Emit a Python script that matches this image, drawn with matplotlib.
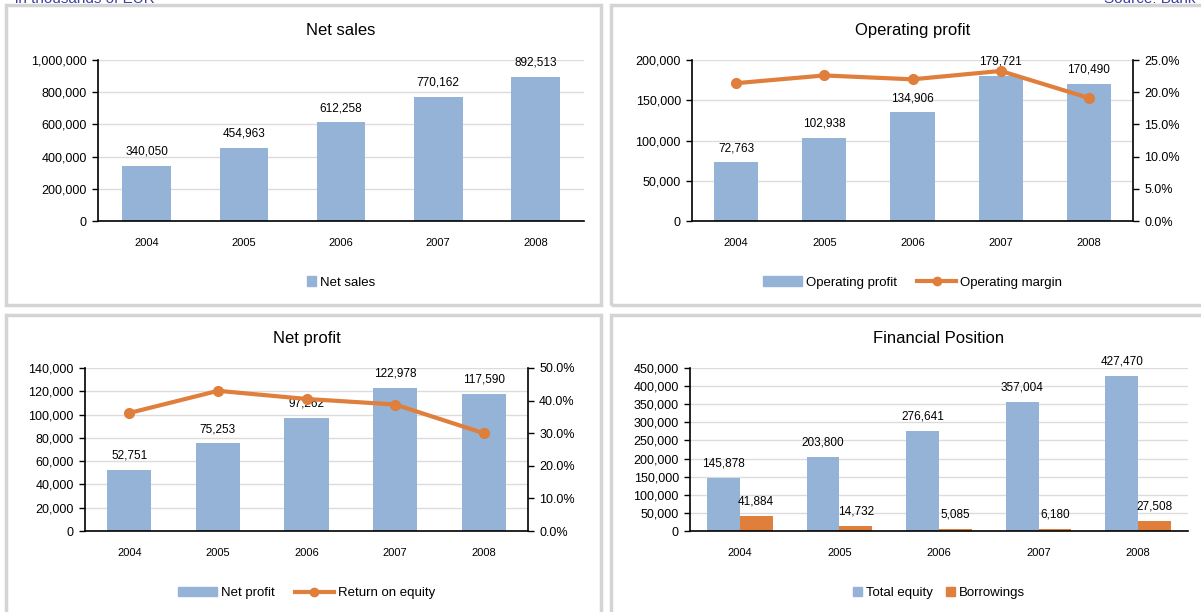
import numpy as np
import matplotlib
matplotlib.use('Agg')
import matplotlib.pyplot as plt
from matplotlib.patches import Rectangle
from matplotlib.lines import Line2D
from matplotlib.ticker import FuncFormatter

# ------------------------------------------------------------
# Data (in thousands of EUR)
# ------------------------------------------------------------
years = ['2004', '2005', '2006', '2007', '2008']
net_sales = [340050, 454963, 612258, 770162, 892513]
operating_profit = [72763, 102938, 134906, 179721, 170490]
operating_margin = [21.4, 22.6, 22.0, 23.3, 19.1]
net_profit = [52751, 75253, 97262, 122978, 117590]
return_on_equity = [36.2, 43.0, 40.5, 38.8, 30.0]
total_equity = [145878, 203800, 276641, 357004, 427470]
borrowings = [41884, 14732, 5085, 6180, 27508]

BLUE = '#95B3D7'
ORANGE = '#E07E3C'
GRID = '#DCDCDC'
W, H = 1201, 612

plt.rcParams['font.family'] = ['Liberation Sans', 'DejaVu Sans']

fig = plt.figure(figsize=(W / 100, H / 100), dpi=100)
fig.patch.set_facecolor('white')


def box(x0, y0, x1, y1):
    """pixel box (top-left origin) -> figure fraction rect"""
    return [x0 / W, 1 - y1 / H, (x1 - x0) / W, (y1 - y0) / H]


thousands = FuncFormatter(lambda v, p: f'{int(v):,}')
percent = FuncFormatter(lambda v, p: f'{v:.1f}%')

# panel frames
for (x0, y0, x1, y1) in [(6, 5, 601, 305), (611, 5, 1205, 305),
                         (6, 315, 601, 620), (611, 315, 1205, 620)]:
    fig.patches.append(Rectangle((x0 / W, 1 - y1 / H), (x1 - x0) / W, (y1 - y0) / H,
                                 transform=fig.transFigure, fill=False,
                                 edgecolor='#D4D4D4', linewidth=2.5))

# header line, cut off by the top edge as in the source page
fig.text(15 / W, 1 + 1 / H, 'in thousands of EUR', color='#3F3FA0', fontsize=11, va='center')
fig.text(1195 / W, 1 + 1 / H, 'Source: Bank', color='#3F3FA0', fontsize=11,
         va='center', ha='right')


def style(ax, ymax, step):
    ax.set_xlim(-0.5, 4.5)
    ax.set_ylim(0, ymax)
    ax.set_yticks(np.arange(0, ymax + 1, step))
    ax.yaxis.set_major_formatter(thousands)
    ax.grid(axis='y', color=GRID, linewidth=1)
    ax.set_axisbelow(True)
    for s in ['top', 'right']:
        ax.spines[s].set_visible(False)
    ax.spines['left'].set_linewidth(1.2)
    ax.spines['bottom'].set_linewidth(1.2)
    ax.tick_params(axis='y', length=4, width=1, labelsize=9, pad=4)
    ax.tick_params(axis='x', length=0, labelsize=8, pad=12)
    ax.set_xticks(range(5))
    ax.set_xticklabels(years)


def labels(ax, xs, vals):
    for x, v in zip(xs, vals):
        ax.annotate(f'{v:,}', (x, v), xytext=(0, 6), textcoords='offset points',
                    ha='center', va='bottom', fontsize=8.5)


def right_axis(ax, ymax):
    ax2 = ax.twinx()
    ax2.set_ylim(0, ymax)
    ax2.set_yticks(np.arange(0, ymax + 0.1, 5 if ymax == 25 else 10))
    ax2.yaxis.set_major_formatter(percent)
    for s in ['top', 'left', 'bottom']:
        ax2.spines[s].set_visible(False)
    ax2.spines['right'].set_linewidth(1.2)
    ax2.tick_params(axis='y', length=4, width=1, labelsize=9, pad=4)
    return ax2


x = np.arange(5)
leg_kw = dict(loc='upper center', bbox_to_anchor=(0.5, -0.27), frameon=False, fontsize=9.5)

# ---- Net sales
ax1 = fig.add_axes(box(98, 60, 584, 221))
style(ax1, 1000000, 200000)
ax1.bar(x, net_sales, width=0.5, color=BLUE)
labels(ax1, x, net_sales)
ax1.set_title('Net sales', fontsize=12, pad=18)
ax1.legend(handles=[Rectangle((0, 0), 1, 1, color=BLUE)], labels=['Net sales'],
           handlelength=0.7, handleheight=0.7, handletextpad=0.3, **leg_kw)

# ---- Operating profit
ax2 = fig.add_axes(box(692, 60, 1133, 221))
style(ax2, 200000, 50000)
ax2.bar(x, operating_profit, width=0.5, color=BLUE)
labels(ax2, x, operating_profit)
ax2.set_title('Operating profit', fontsize=12, pad=18)
ax2r = right_axis(ax2, 25)
ax2r.plot(x, operating_margin, color=ORANGE, linewidth=3, marker='o', markersize=7)
ax2.legend(handles=[Rectangle((0, 0), 1, 1, color=BLUE),
                    Line2D([], [], color=ORANGE, linewidth=3, marker='o', markersize=6)],
           labels=['Operating profit', 'Operating margin'],
           ncol=2, handlelength=3, handletextpad=0.3, columnspacing=1.5, **leg_kw)

# ---- Net profit
ax3 = fig.add_axes(box(85, 368, 528, 531))
style(ax3, 140000, 20000)
ax3.bar(x, net_profit, width=0.5, color=BLUE)
labels(ax3, x, net_profit)
ax3.set_title('Net profit', fontsize=12, pad=18)
ax3r = right_axis(ax3, 50)
ax3r.plot(x, return_on_equity, color=ORANGE, linewidth=3, marker='o', markersize=7)
ax3.legend(handles=[Rectangle((0, 0), 1, 1, color=BLUE),
                    Line2D([], [], color=ORANGE, linewidth=3, marker='o', markersize=6)],
           labels=['Net profit', 'Return on equity'],
           ncol=2, handlelength=3, handletextpad=0.3, columnspacing=1.5, **leg_kw)

# ---- Financial position
ax4 = fig.add_axes(box(690, 368, 1188, 531))
style(ax4, 450000, 50000)
bw = 0.33
ax4.bar(x - bw / 2, total_equity, width=bw, color=BLUE)
ax4.bar(x + bw / 2, borrowings, width=bw, color=ORANGE)
labels(ax4, x - bw / 2, total_equity)
labels(ax4, x + bw / 2, borrowings)
ax4.set_title('Financial Position', fontsize=12, pad=18)
ax4.legend(handles=[Rectangle((0, 0), 1, 1, color=BLUE), Rectangle((0, 0), 1, 1, color=ORANGE)],
           labels=['Total equity', 'Borrowings'],
           ncol=2, handlelength=0.7, handleheight=0.7, handletextpad=0.3, columnspacing=1.0,
           **leg_kw)

fig.savefig('out.png', dpi=100)
